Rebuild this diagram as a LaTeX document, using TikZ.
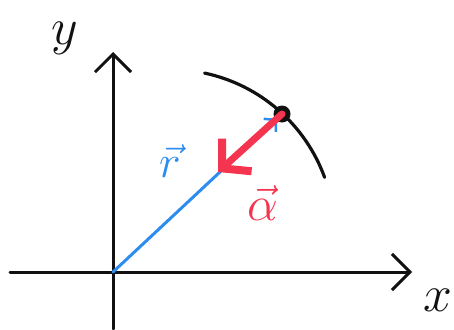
\documentclass[tikz,border=0pt]{standalone}
\usetikzlibrary{arrows.meta,calc,positioning}
\definecolor{rblue}{HTML}{2D8CF0}
\definecolor{ared}{HTML}{F5344F}
\definecolor{ink}{HTML}{111111}

\begin{document}
\begin{tikzpicture}[
  x=1pt,y=-1pt,
  line cap=round, line join=round,
  axis/.style={-{Straight Barb[length=18pt,width=36pt,line width=3pt]},draw=ink,line width=3pt},
  orbit/.style={draw=ink,line width=3.2pt},
  rvec/.style={-{Straight Barb[length=8pt,width=18pt,line width=2.5pt]},draw=rblue,line width=3pt},
  avec/.style={-{Straight Barb[length=20pt,width=44pt,line width=8pt]},draw=ared,line width=7pt},
  lab/.style={inner sep=0pt,font=\Large,scale=3.6,text=ink},
  vlab/.style={inner sep=0pt,font=\Large,scale=#1},
  vlab/.default=3.2
]
\useasboundingbox (0,0) rectangle (454,329);

\coordinate (origin) at (113,272);
\coordinate (xstart) at (10,272);
\coordinate (xend) at (412,272);
\coordinate (ystart) at (113,329);
\coordinate (yend) at (113,52);
\coordinate (arccentre) at (170.5,233.5);

\draw[axis] (xstart) -- (xend);
\draw[axis] (ystart) -- (yend);
\node[lab] (xlab) at (438,300) {$x$};
\node[lab] (ylab) at (65,38) {$y$};

% circular path (y runs downwards here)
\draw[orbit] (arccentre) ++(-78:164) arc[start angle=-78,end angle=-20,radius=164];

\node[circle,fill=ink,inner sep=0pt,minimum size=17pt] (mass) at (282,114) {};
\coordinate (atip) at (218,172);

\draw[rvec,shorten >=7pt] (origin) -- (mass.center);
\draw[avec] (mass.center) -- (atip);

\node[vlab,text=rblue] (rlab) at (170,161) {$\vec{r}$};
\node[vlab=3.4,text=ared] (alab) at (263,203) {$\vec{\alpha}$};
\end{tikzpicture}
\end{document}
